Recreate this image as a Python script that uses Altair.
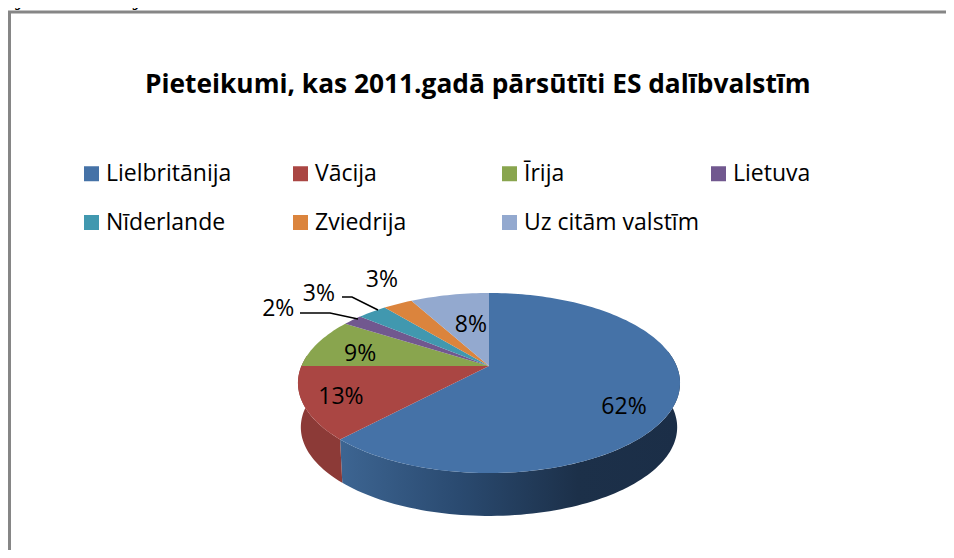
import math
import altair as alt
import pandas as pd

# ---- values ----
countries = ["Lielbritānija", "Vācija", "Īrija", "Lietuva", "Nīderlande", "Zviedrija", "Uz citām valstīm"]
shares = [62, 13, 9, 2, 3, 3, 8]
colors = ["#4572A7", "#AA4643", "#89A54E", "#71588F", "#4198AF", "#DB843D", "#93A9CF"]
title_text = "Pieteikumi, kas 2011.gadā pārsūtīti ES dalībvalstīm"
top_text = "rijas centrālajām iestādēm."

# ---- tilted-disc geometry (all slices derive from shares) ----
CX, CY = 489.0, 366.0
A, B, C = 187.6, 86.8, 0.189
DEPTH, SHRINK = 44.5, 0.985


def project(theta_deg, r=1.0, lower=False):
    t = math.radians(theta_deg)
    u, v = r * math.sin(t), r * math.cos(t)
    den = 1 + C * v
    x, y = A * u / den, -B * v / den
    if lower:
        return CX + x * SHRINK, CY + DEPTH + y * SHRINK
    return CX + x, CY + y


def arc(t0, t1, lower=False):
    n = max(2, int(abs(t1 - t0) / 1.5))
    return [project(t0 + (t1 - t0) * i / n, lower=lower) for i in range(n + 1)]


cum = [0]
for s in shares:
    cum.append(cum[-1] + s * 3.6)

tops = []
for name, t0, t1 in zip(countries, cum[:-1], cum[1:]):
    pts = [(CX, CY)] + arc(t0, t1)
    for i, (x, y) in enumerate(pts):
        tops.append({"name": name, "i": i, "x": x, "y": y})
tops = pd.DataFrame(tops)


def side_frame(t0, t1):
    pts = arc(t0, t1) + arc(t1, t0, lower=True)
    return pd.DataFrame([{"i": i, "x": x, "y": y} for i, (x, y) in enumerate(pts)])


X = alt.X("x:Q", scale=alt.Scale(domain=[8, 946], nice=False, zero=False), axis=None)
Y = alt.Y("y:Q", scale=alt.Scale(domain=[8, 550], nice=False, zero=False, reverse=True), axis=None)

side_blue = alt.Chart(side_frame(80, cum[1])).mark_line(
    strokeWidth=0,
    fill=alt.LinearGradient(
        gradient="linear", x1=1, x2=0, y1=0, y2=0,
        stops=[
            alt.GradientStop(offset=0, color="#1B2E47"),
            alt.GradientStop(offset=0.3, color="#1C3049"),
            alt.GradientStop(offset=0.65, color="#2A4A70"),
            alt.GradientStop(offset=1, color="#3D6592"),
        ],
    ),
).encode(x=X, y=Y, order="i:Q")

side_red = alt.Chart(side_frame(cum[1], 277)).mark_line(strokeWidth=0, fill="#8C3A37").encode(
    x=X, y=Y, order="i:Q"
)

top = alt.Chart(tops).mark_line(strokeWidth=0).encode(
    x=X,
    y=Y,
    order="i:Q",
    fill=alt.Fill(
        "name:N",
        sort=countries,
        scale=alt.Scale(domain=countries, range=colors),
        legend=alt.Legend(
            orient="none", legendX=72, legendY=154, columns=4, title=None,
            direction="horizontal",
            symbolType="square", symbolSize=225, symbolStrokeWidth=0,
            labelFont="Open Sans", labelFontSize=23, labelColor="#000000",
            labelOffset=3, labelLimit=300, gridAlign="all",
            columnPadding=8, rowPadding=25,
        ),
    ),
)

# ---- outline of the chart area ----
frame = pd.DataFrame({"x": [9.5, 9.5, 946], "y": [550, 12, 12], "i": [0, 1, 2]})
box = alt.Chart(frame).mark_line(stroke="#868686", strokeWidth=3).encode(x=X, y=Y, order="i:Q")

# ---- percent labels: angle (degrees clockwise) and radius in the disc's plane ----
label_theta = [122, 247.1, 283.2, 301.2, 313.2, 330.6, 349]
label_r = [0.782, 0.806, 0.728, 1.507, 1.483, 1.439, 0.557]
labels = []
for s, th, r in zip(shares, label_theta, label_r):
    x, y = project(th, r)
    labels.append({"x": x, "y": y, "t": f"{s}%"})
label_layer = alt.Chart(pd.DataFrame(labels)).mark_text(
    font="Open Sans", fontSize=23, color="#000000", align="center", baseline="middle", dy=2
).encode(x=X, y=Y, text="t:N")

# ---- leader lines ----
leaders = pd.DataFrame({
    "g": ["a"] * 3 + ["b"] * 3,
    "i": [0, 1, 2, 0, 1, 2],
    "x": [300, 330, 358, 342, 352, 378],
    "y": [313, 313, 319, 297, 297, 310],
})
leader_layer = alt.Chart(leaders).mark_line(stroke="#000000", strokeWidth=1.5).encode(
    x=X, y=Y, detail="g:N", order="i:Q"
)

top_line = alt.Chart(pd.DataFrame({"t": [top_text]})).mark_text(
    font="Liberation Serif", fontSize=26, color="#000000", align="left", baseline="alphabetic"
).encode(x=alt.value(-8), y=alt.value(-3), text="t:N")

chart = alt.layer(box, side_blue, side_red, top, leader_layer, label_layer, top_line).properties(
    width=938,
    height=542,
    padding=0,
    autosize=alt.AutoSizeParams(type="none"),
    title=alt.TitleParams(
        title_text, anchor="start", dx=137, offset=-114, font="Open Sans", fontSize=26.3,
        fontWeight="bold", color="#000000", frame="group",
    ),
    background="#FFFFFF",
).configure_view(stroke=None)

chart.save("out.html", embed_options={"renderer": "svg", "actions": False})
